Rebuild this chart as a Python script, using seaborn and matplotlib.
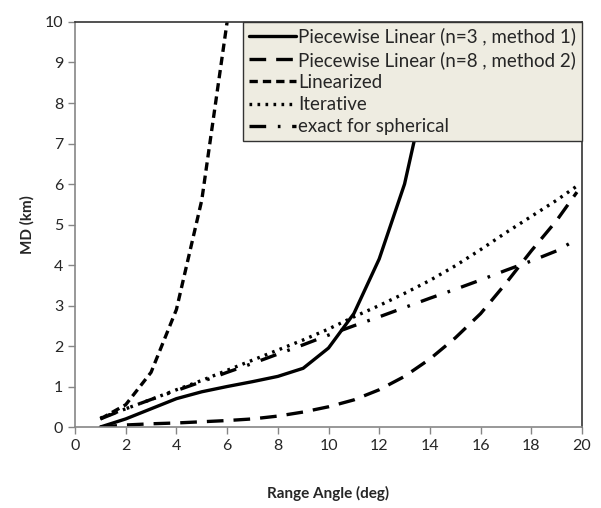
import matplotlib
matplotlib.use("Agg")
import matplotlib.pyplot as plt
import seaborn as sns
import pandas as pd

# data
x_pw3 = [1, 2, 3, 4, 5, 6, 7, 8, 9, 10, 11, 12, 13, 13.5, 14, 14.4]
y_pw3 = [0.0, 0.2, 0.45, 0.7, 0.87, 1.0, 1.12, 1.25, 1.45, 1.95, 2.8, 4.15, 6.0, 7.4, 9.0, 10.6]

x_pw8 = [1, 2, 3, 4, 5, 6, 7, 8, 9, 10, 11, 12, 13, 14, 15, 16, 17, 18, 19, 19.8]
y_pw8 = [0.0, 0.05, 0.08, 0.1, 0.13, 0.16, 0.2, 0.27, 0.37, 0.5, 0.67, 0.92, 1.25, 1.68, 2.2, 2.8, 3.55, 4.35, 5.1, 5.8]

x_lin = [1, 2, 3, 4, 5, 6]
y_lin = [0.2, 0.55, 1.35, 2.9, 5.6, 10.0]

x_iter = [1, 2, 3, 4, 5, 6, 7, 8, 9, 10, 11, 12, 13, 14, 15, 16, 17, 18, 19, 19.8]
y_iter = [0.22, 0.45, 0.68, 0.92, 1.15, 1.4, 1.65, 1.9, 2.15, 2.42, 2.72, 3.0, 3.3, 3.62, 3.98, 4.38, 4.8, 5.2, 5.6, 5.95]

x_exact = [1, 2, 3, 4, 5, 6, 7, 8, 9, 10, 11, 12, 13, 14, 15, 16, 17, 18, 19, 19.7]
y_exact = [0.2, 0.45, 0.68, 0.9, 1.12, 1.35, 1.57, 1.8, 2.03, 2.27, 2.5, 2.72, 2.95, 3.18, 3.4, 3.63, 3.87, 4.1, 4.35, 4.6]

labels = ["Piecewise Linear (n=3 , method 1)", "Piecewise Linear (n=8 , method 2)",
          "Linearized", "Iterative", "exact for spherical"]

sns.set_style("white")
plt.rcParams['font.family'] = ['Lato', 'DejaVu Sans']

fig = plt.figure(figsize=(6.01, 5.08), dpi=100)
ax = fig.add_axes([0.1248, 0.1594, 0.8436, 0.7973])

series = [
    (x_pw3, y_pw3, labels[0], '-'),
    (x_pw8, y_pw8, labels[1], (0, (5, 3))),
    (x_lin, y_lin, labels[2], (0, (2.5, 1.5))),
    (x_iter, y_iter, labels[3], (0, (0.8, 1.6))),
    (x_exact, y_exact, labels[4], (0, (5, 3.5, 0.8, 3.5))),
]
for xs, ys, lab, ls in series:
    df = pd.DataFrame({'x': xs, 'y': ys})
    sns.lineplot(data=df, x='x', y='y', ax=ax, color='black', linewidth=2.4,
                 linestyle=ls, label=lab, sort=False)

ax.set_xlim(0, 20)
ax.set_ylim(0, 10)
ax.set_xticks(range(0, 21, 2))
ax.set_yticks(range(0, 11))
ax.tick_params(axis='both', direction='out', length=5, width=1, color='#868686',
               labelsize=11.5, bottom=True, left=True)
ax.set_xlabel('Range Angle (deg)', fontsize=11, fontweight='bold', labelpad=24)
ax.set_ylabel('MD (km)', fontsize=11, fontweight='bold', labelpad=7)

ax.spines['left'].set_color('#868686')
ax.spines['bottom'].set_color('#868686')
ax.spines['top'].set_color('#333333')
ax.spines['right'].set_color('#333333')
for s in ax.spines.values():
    s.set_linewidth(1.2)

leg = ax.legend(loc='upper right', bbox_to_anchor=(1.0, 1.0), borderaxespad=0,
                fontsize=13.5, frameon=True, fancybox=False, handlelength=2.5,
                handletextpad=0.15, labelspacing=0.28, borderpad=0.3)
leg.get_frame().set_facecolor('#EEECE1')
leg.get_frame().set_edgecolor('#333333')
leg.get_frame().set_alpha(1)

fig.savefig('out.png', dpi=100)
